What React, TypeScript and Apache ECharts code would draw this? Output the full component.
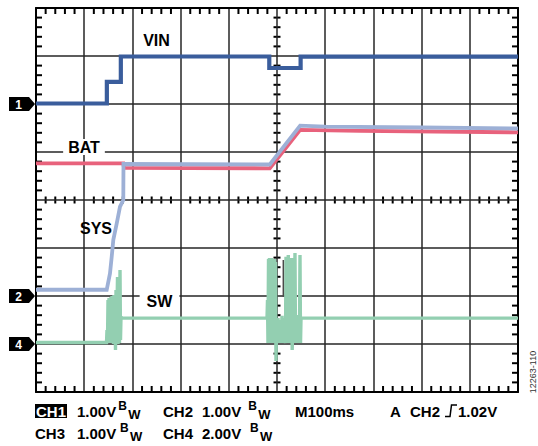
import React, { useEffect, useRef } from "react";
import * as echarts from "echarts";

// ---------- data ----------
// time in ms (M100ms -> 100 ms/div, 10 divisions)
const TIME_MAX = 1000;
const TIME_DIV = 100;
const Y_DIVS = 8;
const MINOR_PER_DIV = 5;

// channel ground offsets (divisions from bottom) and V/div
const CH1 = { offset: 6, scale: 1 }; // VIN
const CH2 = { offset: 2, scale: 1 }; // SYS
const CH3 = { offset: 2, scale: 1 }; // BAT
const CH4 = { offset: 1, scale: 2 }; // SW

// [ms, V]
const vinTrace: number[][] = [
  [0, 0.01], [147, 0.01], [147, 0.46], [176, 0.46], [176, 0.99], [484, 0.99],
  [484, 0.75], [549, 0.75], [549, 0.985], [1000, 0.985],
];
const sysTrace: number[][] = [
  [0, 0.13], [146.7, 0.13], [153.5, 0.47], [157.1, 0.82], [160.4, 1.17], [167.4, 1.51],
  [174.3, 1.86], [181.1, 2.0], [181.5, 2.75], [485, 2.74], [548, 3.55], [600, 3.53],
  [800, 3.51], [1000, 3.49],
];
const batTrace: number[][] = [
  [0, 2.765], [181.1, 2.765], [182.5, 2.67], [485, 2.66], [548, 3.46], [672, 3.44], [1000, 3.41],
];
const swTrace: number[][] = [
  [0, 0.06], [146.3, 0.06],
  [147.3, 0.58], [148.3, 0.04], [149.4, 1.83], [150.4, 0.08], [151.5, 1.92], [152.5, 0.04],
  [153.5, 1.0], [154.6, 0.08], [155.6, 1.96], [156.6, 0.04], [157.7, 2.0], [158.7, 0.08],
  [159.8, 1.42], [160.8, 0], [161.8, 2.04], [162.9, 0.04], [163.9, 1.83], [164.9, -0.25],
  [166.0, 2.25], [167.0, 0.04], [169.1, 2.79], [170.1, 0], [172.2, 1.0], [173.2, 0.04],
  [174.3, 3.08], [175.3, 0.17], [176.3, 1.13], [178, 1.08],
  [479.3, 1.08],
  [480.3, 1.83], [481.3, 0.04], [482.4, 3.54], [483.4, 0.04], [484.4, 3.58], [485.5, 0.17],
  [486.5, 3.54], [487.6, 0.04], [488.6, 3.58], [489.6, 0.04], [490.7, 3.5], [491.7, 0.04],
  [492.7, 3.54], [493.8, 0.04], [494.8, 3.54], [495.9, 0.04], [496.9, 3.42], [497.9, -0.71],
  [499.0, 0.58], [500.0, 0.04], [502.1, 1.08], [504.2, 0.04], [506.2, 1.0], [508.3, 0.04],
  [510.4, 1.17], [512.5, 0.04], [514.5, 1.08], [517.6, 0.04], [518.7, 3.63], [519.7, 0.04],
  [521.8, 1.0], [523.4, 3.71], [524.9, 0.04], [527.0, 1.08], [529.0, 0.04], [530.5, 3.58],
  [531.5, -0.25], [533.2, 1.0], [535.3, 0.04], [537.3, 3.79], [538.4, 0.04], [540.4, 1.21],
  [542.5, 0.04], [544.6, 1.08], [546.6, 0.04], [547.7, 3.71], [548.8, 0.04], [549.8, 1.08],
  [1000, 1.08],
];
const cursorTrace: number[][] = [[513.1, 3.5], [513.1, 1.97]];

const traceLabels = ["VIN", "BAT", "SYS", "SW"];
const statusRow1 = ["CH1", "1.00V", "CH2", "1.00V", "M100ms", "A", "CH2", "1.02V"];
const statusRow2 = ["CH3", "1.00V", "CH4", "2.00V"];
const figureId = "12263-110";

// ---------- layout ----------
const W = 538;
const H = 446;
const GRID = { left: 36, top: 8, width: 482, height: 384 };
const DIV_H = GRID.height / Y_DIVS;
const FONT = '"Liberation Sans", Arial, Helvetica, sans-serif';

const toScreen = (pts: number[][], ch: { offset: number; scale: number }) =>
  pts.map(([t, v]) => [t, ch.offset + v / ch.scale]);

const markerY = (ch: { offset: number }) => GRID.top + (Y_DIVS - ch.offset) * DIV_H;

// graticule minor tick marks (decoration of the plot frame), drawn as rects
function graticule() {
  const EDGE = 6;
  const MID = 3.5;
  const TW = 2;
  const L = GRID.left, T = GRID.top, R = GRID.left + GRID.width, B = GRID.top + GRID.height;
  const cx = L + GRID.width / 2;
  const cy = T + GRID.height / 2;
  const els: any[] = [];
  const box = (x: number, y: number, w: number, h: number) =>
    els.push({ type: "rect", shape: { x, y, width: w, height: h }, style: { fill: "#000" } });
  const nx = (TIME_MAX / TIME_DIV) * MINOR_PER_DIV;
  for (let i = 1; i < nx; i++) {
    if (i % MINOR_PER_DIV === 0) continue;
    const x = L + (i * GRID.width) / nx - TW / 2;
    box(x, T, TW, EDGE);
    box(x, B - EDGE, TW, EDGE);
    box(x, cy - MID, TW, 2 * MID);
  }
  const ny = Y_DIVS * MINOR_PER_DIV;
  for (let j = 1; j < ny; j++) {
    if (j % MINOR_PER_DIV === 0) continue;
    const y = T + (j * GRID.height) / ny - TW / 2;
    box(L, y, EDGE, TW);
    box(R - EDGE, y, EDGE, TW);
    box(cx - MID, y, 2 * MID, TW);
  }
  return { type: "group", z: 90, children: els };
}

function chMarker(label: string, ch: { offset: number }) {
  const y = markerY(ch);
  return {
    type: "group",
    z: 100,
    children: [
      {
        type: "polygon",
        shape: { points: [[9, y - 7], [29, y - 7], [35, y], [29, y + 7], [9, y + 7]] },
        style: { fill: "#000" },
      },
      {
        type: "text",
        x: 18.5,
        y: y + 0.5,
        style: { text: label, fill: "#fff", font: `bold 12px ${FONT}`, align: "center", verticalAlign: "middle" },
      },
    ],
  };
}

function txt(text: string, x: number, y: number, size = 15, extra: any = {}) {
  return {
    type: "text",
    x,
    y,
    z: 100,
    style: { text, fill: "#000", font: `bold ${size}px ${FONT}`, align: "left", verticalAlign: "middle", ...extra },
  };
}

function bw(x: number, y: number) {
  return [txt("B", x, y - 5, 12), txt("W", x + 10, y + 3.8, 13)];
}

const gridLineColor = "#262626";

const axisCommon = {
  type: "value",
  axisLabel: { show: false },
  axisTick: { show: false },
};

const traceLine = (name: string, data: number[][], color: string, width: number) => ({
  name,
  type: "line",
  data,
  showSymbol: false,
  symbol: "none",
  silent: true,
  lineStyle: { color, width, join: "miter" },
});

const option: any = {
  animation: false,
  backgroundColor: "#fff",
  grid: { ...GRID, containLabel: false, outerBoundsMode: "none" },
  xAxis: [
    {
      ...axisCommon, min: 0, max: TIME_MAX, interval: TIME_DIV, position: "bottom",
      axisLine: { show: true, onZero: false, lineStyle: { color: "#000", width: 2 } },
      splitLine: { show: true, lineStyle: { color: gridLineColor, width: 1.5 } },
    },
    {
      ...axisCommon, min: 0, max: TIME_MAX, interval: TIME_DIV, position: "top",
      axisLine: { show: true, onZero: false, lineStyle: { color: "#000", width: 2 } },
      splitLine: { show: false },
    },
  ],
  yAxis: [
    {
      ...axisCommon, min: 0, max: Y_DIVS, interval: 1, position: "left",
      axisLine: { show: true, onZero: false, lineStyle: { color: "#000", width: 2 } },
      splitLine: { show: true, lineStyle: { color: gridLineColor, width: 1.5 } },
    },
    {
      ...axisCommon, min: 0, max: Y_DIVS, interval: 1, position: "right",
      axisLine: { show: true, onZero: false, lineStyle: { color: "#000", width: 2 } },
      splitLine: { show: false },
    },
  ],
  series: [
    traceLine("BAT", toScreen(batTrace, CH3), "#e8627c", 3.8),
    traceLine("SYS", toScreen(sysTrace, CH2), "#9db0d6", 3.8),
    traceLine("VIN", toScreen(vinTrace, CH1), "#3a5d9c", 4.2),
    traceLine("SW", toScreen(swTrace, CH4), "#93cfb1", 3.4),
    traceLine("cursor", toScreen(cursorTrace, CH4), "#4a4a4a", 1.5),
  ],
  graphic: [
    graticule(),
    // trace labels
    txt(traceLabels[0], 156.5, 40, 16, { align: "center" }),
    txt(traceLabels[1], 84, 147, 16, { align: "center", backgroundColor: "#fff", padding: [0, 5, 0, 5] }),
    txt(traceLabels[2], 96, 228.5, 16, { align: "center" }),
    txt(traceLabels[3], 159.5, 301.5, 16, { align: "center", backgroundColor: "#fff", padding: [0, 7, 0, 7] }),
    // channel markers
    chMarker("1", CH1),
    chMarker("2", CH2),
    chMarker("4", CH4),
    // status row 1
    txt(statusRow1[0], 35, 411, 15, { fill: "#fff", backgroundColor: "#000", padding: [1, 1, 0, 1], lineHeight: 13 }),
    txt(statusRow1[1], 77, 411),
    ...bw(118.3, 411),
    txt(statusRow1[2], 163, 411),
    txt(statusRow1[3], 202, 411),
    ...bw(248.3, 411),
    txt(statusRow1[4], 295, 411),
    txt(statusRow1[5], 390, 411),
    txt(statusRow1[6], 410, 411),
    {
      type: "polyline",
      z: 100,
      shape: { points: [[445, 416.5], [450, 416.5], [451.5, 405], [457, 405]] },
      style: { stroke: "#000", lineWidth: 1.5, fill: null },
    },
    txt(statusRow1[7], 458, 411),
    // status row 2
    txt(statusRow2[0], 35, 433),
    txt(statusRow2[1], 77, 433),
    ...bw(120, 433),
    txt(statusRow2[2], 163, 433),
    txt(statusRow2[3], 202, 433),
    ...bw(250, 433),
    // figure id
    {
      type: "text",
      x: 532.5,
      y: 372,
      rotation: Math.PI / 2,
      z: 100,
      style: { text: figureId, fill: "#333", font: `9px ${FONT}`, align: "center", verticalAlign: "middle" },
    },
  ],
};

export default function App() {
  const ref = useRef<HTMLDivElement>(null);
  useEffect(() => {
    if (!ref.current) return;
    const chart = echarts.init(ref.current, null, { renderer: "svg", width: W, height: H });
    chart.setOption(option);
    return () => chart.dispose();
  }, []);
  return (
    <div
      ref={ref}
      style={{ position: "absolute", left: 0, top: 0, width: W, height: H, background: "#fff" }}
    />
  );
}
